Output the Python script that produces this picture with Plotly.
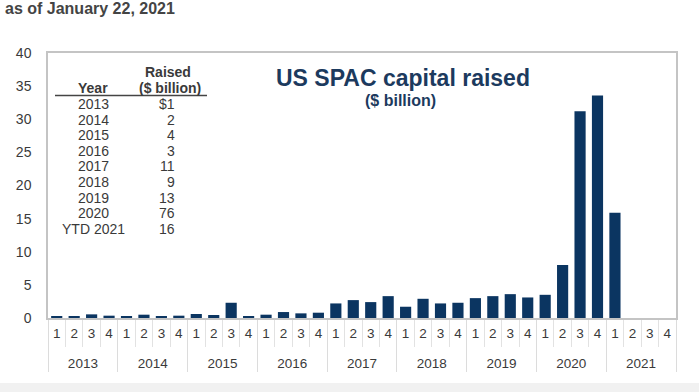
import plotly.graph_objects as go

# ---- data ----
years = ["2013", "2014", "2015", "2016", "2017", "2018", "2019", "2020", "2021"]
quarters = ["1", "2", "3", "4"]
values = [
    0.2, 0.25, 0.55, 0.35,   # 2013
    0.3, 0.5, 0.3, 0.35,     # 2014
    0.6, 0.45, 2.3, 0.3,     # 2015
    0.5, 0.9, 0.7, 0.8,      # 2016
    2.2, 2.7, 2.4, 3.3,      # 2017
    1.7, 2.9, 2.2, 2.3,      # 2018
    3.0, 3.3, 3.6, 3.1,      # 2019
    3.5, 8.0, 31.2, 33.6,    # 2020
    15.9, None, None, None,  # 2021
]
table_years = ["2013", "2014", "2015", "2016", "2017", "2018", "2019", "2020", "YTD 2021"]
table_raised = ["$1", "2", "4", "3", "11", "9", "13", "76", "16"]
y_ticks = [0, 5, 10, 15, 20, 25, 30, 35, 40]

# inner labels get a small empty second line so the year row sits lower
x_outer = [y for y in years for _ in quarters]
x_inner = [q + "<br><span style='font-size:7px'>&nbsp;</span>" for _ in years for q in quarters]

NAVY = "#0b3561"
TITLE = "#1c3a5e"
TXT = "#3a3a3a"
FONT = "Liberation Sans, Arial, sans-serif"

W, H = 699, 392
L, R, T, B = 48, 23, 53, 74
PW, PH = W - L - R, H - T - B


def px(x):
    return (x - L) / PW


def py(y):
    return (H - B - y) / PH


fig = go.Figure(
    go.Bar(
        x=[x_outer, x_inner],
        y=values,
        marker=dict(color=NAVY, line=dict(width=0)),
        hoverinfo="y",
    )
)

annotations = []
annotations.append(dict(
    text="<b>as of January 22, 2021</b>", xref="paper", yref="paper",
    x=px(3), y=py(8), xanchor="left", yanchor="middle", showarrow=False,
    font=dict(size=16, color="#444", family=FONT),
))
annotations.append(dict(
    text="<b>US SPAC capital raised</b>", xref="paper", yref="paper",
    x=px(403), y=py(78), xanchor="center", yanchor="middle", showarrow=False,
    font=dict(size=23, color=TITLE, family=FONT),
))
annotations.append(dict(
    text="<b>($ billion)</b>", xref="paper", yref="paper",
    x=px(400), y=py(101), xanchor="center", yanchor="middle", showarrow=False,
    font=dict(size=16, color=TITLE, family=FONT),
))
annotations.append(dict(
    text="<b>Year</b>", xref="paper", yref="paper",
    x=px(93), y=py(88), xanchor="center", yanchor="middle", showarrow=False,
    font=dict(size=14, color=TXT, family=FONT),
))
annotations.append(dict(
    text="<b>Raised</b>", xref="paper", yref="paper",
    x=px(168), y=py(72), xanchor="center", yanchor="middle", showarrow=False,
    font=dict(size=14, color=TXT, family=FONT),
))
annotations.append(dict(
    text="<b>($ billion)</b>", xref="paper", yref="paper",
    x=px(170), y=py(88), xanchor="center", yanchor="middle", showarrow=False,
    font=dict(size=14, color=TXT, family=FONT),
))
row_y0, row_dy = 104, 15.6
for i, (yr, val) in enumerate(zip(table_years, table_raised)):
    yy = row_y0 + i * row_dy
    annotations.append(dict(
        text=yr, xref="paper", yref="paper", x=px(93), y=py(yy),
        xanchor="center", yanchor="middle", showarrow=False,
        font=dict(size=14, color=TXT, family=FONT),
    ))
    annotations.append(dict(
        text=val, xref="paper", yref="paper", x=px(177), y=py(yy),
        xanchor="right", yanchor="middle", showarrow=False,
        font=dict(size=14, color=TXT, family=FONT),
    ))

shapes = [
    dict(type="line", xref="paper", yref="paper", x0=px(55), x1=px(207),
         y0=py(95.5), y1=py(95.5), line=dict(color="#444", width=1.5)),
    dict(type="rect", xref="paper", yref="paper", x0=px(0), x1=px(W),
         y0=py(H), y1=py(383), fillcolor="#f1f1f1", line=dict(width=0),
         layer="below"),
]

fig.update_layout(
    width=W, height=H,
    margin=dict(l=L, r=R, t=T, b=B, pad=0),
    paper_bgcolor="white", plot_bgcolor="white",
    showlegend=False,
    bargap=0.36,
    font=dict(family=FONT, color=TXT),
    annotations=annotations,
    shapes=shapes,
    xaxis=dict(
        type="multicategory",
        showline=True, linecolor="#c4c4c4", linewidth=1.5, mirror=True,
        ticks="outside", tickson="boundaries", ticklen=27,
        tickcolor="#e2e2e2", tickwidth=1,
        showdividers=True, dividercolor="#dcdcdc", dividerwidth=1,
        tickfont=dict(size=13.5, color=TXT, family=FONT),
        ticklabelstandoff=2,
        showgrid=False,
    ),
    yaxis=dict(
        range=[0, 40], tickvals=y_ticks, showgrid=False, zeroline=False,
        showline=True, linecolor="#c4c4c4", linewidth=1.5, mirror=True,
        ticks="", ticklabelstandoff=12,
        tickfont=dict(size=14, color=TXT, family=FONT),
        fixedrange=True,
    ),
)

fig.write_html(
    "out.html",
    config={"displayModeBar": False},
    post_script="document.body.style.margin='0';",
)
